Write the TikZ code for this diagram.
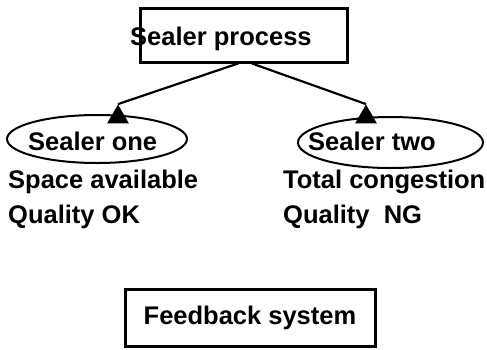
\documentclass[tikz,border=0pt]{standalone}
\usepackage{fontspec}
\setmainfont{Liberation Sans}
\usetikzlibrary{shapes.geometric}

\begin{document}
\begin{tikzpicture}[x=1pt,y=-1pt,
  box/.style={draw,line width=3pt,inner sep=0pt},
  bubble/.style={draw,ellipse,line width=2pt,inner sep=0pt},
  tip/.style={regular polygon,regular polygon sides=3,fill=black,inner sep=0pt,minimum size=25pt},
  conn/.style={line width=2.2pt},
  lbl/.style={anchor=base west,inner sep=0pt,font=\fontsize{25.5}{30}\selectfont\bfseries}]
\path[use as bounding box] (0,0) rectangle (487,349);
% top box
\node[box,minimum width=207pt,minimum height=54pt] (process) at (243.5,35) {};
\node[lbl] (processlabel) at (130,45) {Sealer process};
% the two sealers
\node[bubble,minimum width=180pt,minimum height=48pt] (one) at (97,139) {};
\node[bubble,minimum width=185pt,minimum height=51pt] (two) at (390.5,142.5) {};
\node[tip] (tipone) at (118,117) {};
\node[tip] (tiptwo) at (366,117) {};
\draw[conn] ([xshift=-5.5pt]process.south) -- (tipone.north);
\draw[conn] ([xshift=8.5pt]process.south) -- (tiptwo.north);
\node[lbl] (onelabel) at (28,150) {Sealer one};
\node[lbl] (twolabel) at (308,150) {Sealer two};
\node[lbl] (onespace) at (8,188) {Space available};
\node[lbl] (onequality) at (8,223) {Quality OK};
\node[lbl] (twospace) at (283,188) {Total congestion};
\node[lbl] (twoquality) at (283,223) {Quality~~NG};
% bottom box
\node[box,minimum width=250pt,minimum height=57pt,font=\fontsize{25.5}{30}\selectfont\bfseries] (feedback) at (250,317.5) {Feedback system};
\end{tikzpicture}
\end{document}
